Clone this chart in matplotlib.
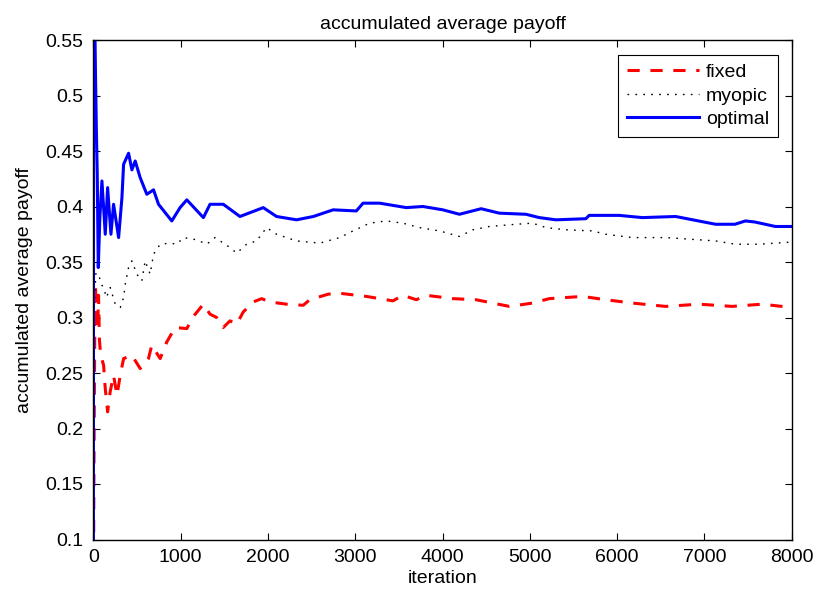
import matplotlib
matplotlib.use("Agg")
import matplotlib.pyplot as plt

plt.rcParams['font.family'] = ['Liberation Sans', 'DejaVu Sans']
plt.rcParams['font.size'] = 14

# values
fixed_x = [1, 5, 10, 18, 25, 33, 40, 50, 60, 70, 80, 100, 118, 137, 164, 193, 232, 271, 309, 347,
           442, 537, 632, 670, 766, 842, 937, 1071, 1147, 1261, 1337, 1413, 1489, 1566, 1642,
           1718, 1832, 1928, 2023, 2214, 2404, 2480, 2690, 2804, 3128, 3432, 3547, 3700, 3813,
           4118, 4385, 4766, 5032, 5223, 5604, 5870, 6175, 6556, 6937, 7318, 7661, 8000]
fixed_y = [0.0, 0.12, 0.2, 0.3, 0.33, 0.3, 0.32, 0.29, 0.32, 0.28, 0.27, 0.262, 0.257, 0.236, 0.215,
           0.233, 0.248, 0.230, 0.248, 0.263, 0.266, 0.254, 0.263, 0.275, 0.263, 0.278, 0.291,
           0.290, 0.301, 0.312, 0.303, 0.300, 0.291, 0.297, 0.294, 0.305, 0.314, 0.317, 0.314,
           0.312, 0.311, 0.316, 0.321, 0.322, 0.319, 0.315, 0.320, 0.316, 0.320, 0.317, 0.316,
           0.310, 0.313, 0.317, 0.319, 0.316, 0.313, 0.310, 0.312, 0.310, 0.312, 0.309]

myopic_x = [10, 30, 61, 90, 118, 150, 194, 251, 309, 347, 366, 404, 442, 499, 556, 594, 651, 690,
            766, 880, 956, 1032, 1185, 1299, 1394, 1566, 1642, 1756, 1871, 1985, 2099, 2328,
            2594, 2823, 2975, 3166, 3356, 3547, 3737, 3966, 4194, 4347, 4537, 4842, 5032, 5185,
            5413, 5718, 5870, 6175, 6556, 6937, 7128, 7356, 7623, 8000]
myopic_y = [0.31, 0.34, 0.339, 0.33, 0.327, 0.318, 0.327, 0.312, 0.309, 0.318, 0.330, 0.345, 0.351,
            0.339, 0.333, 0.351, 0.339, 0.357, 0.366, 0.367, 0.366, 0.372, 0.370, 0.366, 0.372,
            0.363, 0.358, 0.366, 0.369, 0.381, 0.375, 0.369, 0.367, 0.372, 0.378, 0.385, 0.387,
            0.385, 0.381, 0.378, 0.373, 0.379, 0.382, 0.384, 0.385, 0.381, 0.379, 0.378, 0.375,
            0.372, 0.372, 0.370, 0.369, 0.366, 0.366, 0.368]

optimal_x = [1, 4, 8, 15, 25, 35, 45, 57, 75, 99, 137, 164, 202, 232, 290, 328, 347, 404, 442,
             480, 537, 613, 690, 747, 899, 994, 1071, 1261, 1337, 1489, 1680, 1947, 2099, 2328,
             2520, 2747, 3013, 3090, 3280, 3585, 3775, 4004, 4194, 4442, 4651, 4956, 5109, 5299,
             5642, 5680, 6023, 6289, 6670, 7128, 7350, 7470, 7580, 7813, 8000]
optimal_y = [0.05, 0.8, 0.65, 0.58, 0.52, 0.47, 0.43, 0.345, 0.39, 0.423, 0.375, 0.417, 0.375,
             0.402, 0.372, 0.408, 0.438, 0.448, 0.433, 0.441, 0.426, 0.411, 0.415, 0.402, 0.387,
             0.399, 0.406, 0.390, 0.402, 0.402, 0.391, 0.399, 0.391, 0.388, 0.391, 0.397, 0.396,
             0.403, 0.403, 0.399, 0.400, 0.397, 0.393, 0.398, 0.394, 0.393, 0.390, 0.388, 0.389,
             0.392, 0.392, 0.390, 0.391, 0.384, 0.384, 0.387, 0.386, 0.382, 0.382]

fig = plt.figure(figsize=(8.19, 6.0), dpi=100)
ax = fig.add_axes([93.3 / 819, 60.5 / 600, (791.7 - 93.3) / 819, (539.5 - 40) / 600])

ax.plot(fixed_x, fixed_y, color='red', lw=2.2, dashes=(4, 3.5), label='fixed')
ax.plot(myopic_x, myopic_y, color='black', lw=1.0, dashes=(1.2, 4.5), label='myopic')
ax.plot(optimal_x, optimal_y, color='blue', lw=2.2, label='optimal')

ax.set_xlim(0, 8000)
ax.set_ylim(0.1, 0.55)
ax.set_xticks(range(0, 8001, 1000))
ax.set_yticks([0.1, 0.15, 0.2, 0.25, 0.3, 0.35, 0.4, 0.45, 0.5, 0.55])
ax.set_yticklabels(['0.1', '0.15', '0.2', '0.25', '0.3', '0.35', '0.4', '0.45', '0.5', '0.55'])
ax.tick_params(direction='in', top=True, right=True, length=5, width=0.8, pad=7)
for s in ax.spines.values():
    s.set_linewidth(1.0)

ax.set_title('accumulated average payoff', fontsize=14, pad=8)
ax.set_xlabel('iteration', labelpad=3)
ax.set_ylabel('accumulated average payoff', labelpad=9)

leg = ax.legend(loc='upper right', bbox_to_anchor=(0.9855, 0.978), fancybox=False,
                edgecolor='black', framealpha=1, handlelength=3.7, borderpad=0.45,
                labelspacing=0.3, handletextpad=0.35, borderaxespad=0.2)
leg.get_frame().set_linewidth(0.8)

fig.savefig('out.png', dpi=100)
